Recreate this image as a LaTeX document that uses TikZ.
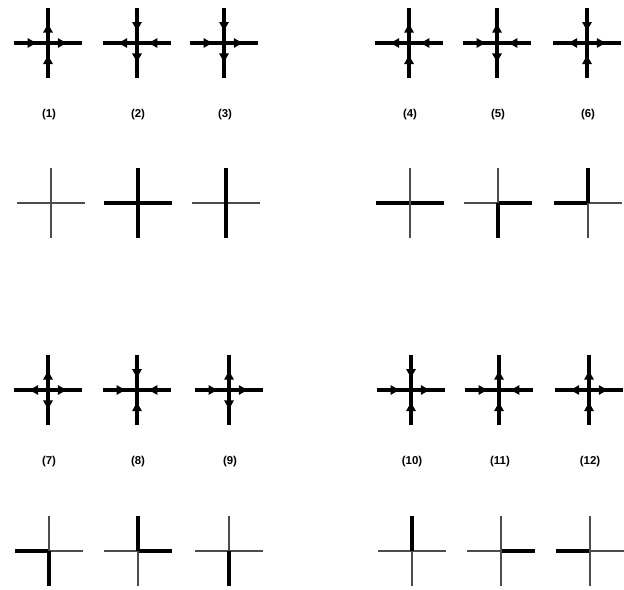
\documentclass[tikz,border=0pt]{standalone}
\usepackage{fontspec}
\setmainfont{Liberation Sans}
\usetikzlibrary{arrows.meta, decorations.markings}

\begin{document}
\begin{tikzpicture}[
    x=0.02cm, y=-0.02cm,
    >={Latex[length=6pt, width=6pt]},
    arm/.style={
        line width=1.8pt,
        decoration={markings, mark=at position 0.6 with {\arrow{#1}}},
        postaction={decorate},
    },
    heavy/.style={line width=2.3pt},
    light/.style={line width=0.85pt, draw=black!70},
    tag/.style={font=\fontsize{6.5}{8}\selectfont\bfseries, inner sep=1pt},
]

% --- Frame ---
\useasboundingbox (0,0) rectangle (624,589);

% --- Arrow vertices: left / right / top / bottom, > out, < in ---
\foreach \n/\x/\y/\l/\r/\t/\b in {
    1/48/43/</>/>/<,    2/137/43/>/</</>,   3/224/43/</>/</>,
    4/409/43/>/</>/<,   5/497/43/</</>/>,   6/587/43/>/>/</<,
    7/48/390/>/>/>/>,   8/137/390/</</</<,  9/229/390/</>/>/>,
    10/411/390/</>/</<, 11/499/390/</</>/<, 12/589/390/>/>/>/<}{
  \coordinate (v\n) at (\x,\y);
  \draw[arm=\l] (v\n) -- ++(-34,0);
  \draw[arm=\r] (v\n) -- ++(34,0);
  \draw[arm=\t] (v\n) -- ++(0,-35);
  \draw[arm=\b] (v\n) -- ++(0,35);
  \node[tag] (tag\n) at (\x+1,\y+72) {(\n)};
}

% --- Line vertices: heavy / light arms ---
\foreach \n/\x/\y/\l/\r/\t/\b in {
    1/51/203/light/light/light/light,   2/138/203/heavy/heavy/heavy/heavy,
    3/226/203/light/light/heavy/heavy,  4/410/203/heavy/heavy/light/light,
    5/498/203/light/heavy/light/heavy,  6/588/203/heavy/light/heavy/light,
    7/49/551/heavy/light/light/heavy,   8/138/551/light/heavy/heavy/light,
    9/229/551/light/light/light/heavy,  10/412/551/light/light/heavy/light,
    11/501/551/light/heavy/light/light, 12/590/551/heavy/light/light/light}{
  \coordinate (w\n) at (\x,\y);
  \draw[\l] (w\n) -- ++(-34,0);
  \draw[\r] (w\n) -- ++(34,0);
  \draw[\t] (w\n) -- ++(0,-35);
  \draw[\b] (w\n) -- ++(0,35);
}

\end{tikzpicture}
\end{document}
